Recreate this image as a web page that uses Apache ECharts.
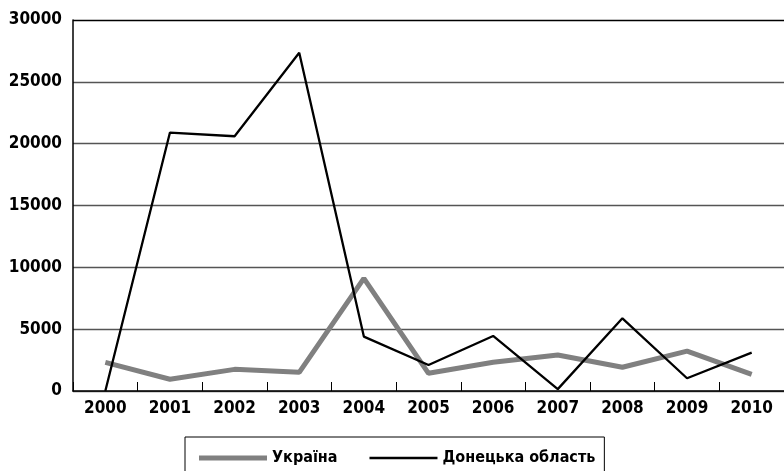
<!DOCTYPE html>
<html>
<head>
<meta charset="utf-8">
<script src="https://cdn.jsdelivr.net/npm/echarts@6/dist/echarts.min.js"></script>
<style>html,body{margin:0;padding:0;background:#fff;}#c{width:784px;height:471px;}</style>
</head>
<body>
<div id="c"></div>
<script>
const years = ['2000','2001','2002','2003','2004','2005','2006','2007','2008','2009','2010'];
const ukraine = [2320, 950, 1750, 1510, 9110, 1430, 2320, 2910, 1920, 3230, 1350];
const donetsk = [0, 20900, 20600, 27350, 4400, 2100, 4450, 150, 5880, 1030, 3100];
const seriesNames = ['Україна', 'Донецька область'];

const FONT = '"DejaVu Sans Condensed", "Liberation Sans Narrow", sans-serif';
const chart = echarts.init(document.getElementById('c'), null, {renderer: 'canvas'});
chart.setOption({
  animation: false,
  backgroundColor: '#fff',
  grid: {left: 73, top: 20, right: -5, bottom: 80, containLabel: false},
  legend: {
    left: 185, top: 437,
    padding: [11, 9, 40, 14],
    borderColor: '#000', borderWidth: 1,
    itemWidth: 68, itemHeight: 14, itemGap: 32,
    textStyle: {fontFamily: FONT, fontWeight: 'bold', fontSize: 16, color: '#000', lineHeight: 20},
    data: [
      {name: seriesNames[0], icon: 'path://M0,0L68,0L68,5L0,5Z'},
      {name: seriesNames[1], icon: 'path://M0,0L68,0L68,2.3L0,2.3Z'}
    ]
  },
  xAxis: {
    type: 'category', data: years, boundaryGap: true,
    axisLine: {lineStyle: {color: '#000', width: 1.5}},
    axisTick: {show: true, inside: true, length: 9, lineStyle: {color: '#000', width: 1}},
    axisLabel: {fontFamily: FONT, fontWeight: 'bold', fontSize: 17, color: '#000', margin: 9}
  },
  yAxis: {
    type: 'value', min: 0, max: 30000, interval: 5000,
    axisLine: {show: true, lineStyle: {color: '#000', width: 1.5}},
    axisTick: {show: false},
    axisLabel: {fontFamily: FONT, fontWeight: 'bold', fontSize: 17, color: '#000', margin: 11,
      formatter: function (v) { return String(v); }},
    splitLine: {lineStyle: {color: ['#555','#555','#555','#555','#555','#555','#000'], width: 1.3}}
  },
  series: [
    {name: seriesNames[0], type: 'line', data: ukraine, symbol: 'none',
     lineStyle: {color: '#808080', width: 5}, itemStyle: {color: '#808080'}, z: 2},
    {name: seriesNames[1], type: 'line', data: donetsk, symbol: 'none',
     lineStyle: {color: '#000', width: 2.3}, itemStyle: {color: '#000'}, z: 3}
  ]
});
</script>
</body>
</html>
